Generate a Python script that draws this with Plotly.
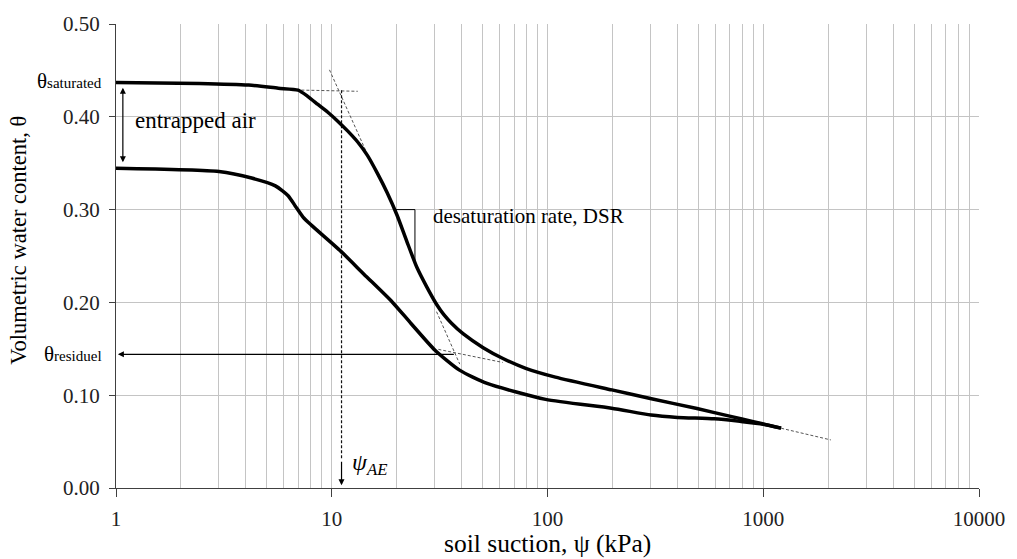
import math
import plotly.graph_objects as go

# ---------------- data ----------------
psi_upper = [1, 2.43, 4.12, 5.65, 6.98, 7.76, 8.63, 9.59, 10.66, 11.84, 13.16, 14.63,
             16.26, 18.07, 20.08, 22.32, 24.8, 27.56, 30.64, 33.0, 35.9, 40.74, 50.33,
             62.17, 79.27, 108.8, 198.7, 303.1, 492.9, 705.9, 899.6, 1209]
theta_upper = [0.437, 0.436, 0.4342, 0.4308, 0.4287, 0.4218, 0.4133, 0.4049, 0.3953,
               0.3848, 0.3731, 0.3584, 0.3393, 0.3182, 0.2939, 0.2653, 0.2378, 0.2167,
               0.1977, 0.1871, 0.1776, 0.166, 0.1512, 0.1395, 0.129, 0.1195, 0.1057,
               0.0962, 0.0856, 0.0772, 0.0715, 0.0645]

psi_lower = [1, 3.0, 4.25, 5.48, 6.28, 6.77, 7.36, 8.04, 11.03, 14.1, 19.06, 23.3, 30.1,
             39.1, 52.5, 98, 198, 302, 400, 592, 780, 1000, 1209]
theta_lower = [0.3445, 0.341, 0.334, 0.3256, 0.315, 0.304, 0.292, 0.2833, 0.255, 0.2304,
               0.2005, 0.1773, 0.1485, 0.127, 0.1127, 0.0955, 0.086, 0.0786, 0.0761,
               0.0745, 0.0718, 0.0688, 0.0645]

# construction (tangent) lines
sat_line_psi = [6.5, 13.2]
sat_line_theta = [0.429, 0.4275]
aev_tan_psi = [9.76, 14.9]
aev_tan_theta = [0.4506, 0.3555]
res_steep_psi = [30.6, 39.2]
res_steep_theta = [0.190, 0.1335]
res_flat_psi = [31.2, 62.0]
res_flat_theta = [0.1494, 0.1353]
tail_psi = [348, 2057]
tail_theta = [0.094, 0.0518]
psi_ae = 11.1
psi_ae_line_theta = [0.4285, 0.03]
dsr_psi = [19.7, 24.3, 24.3]
dsr_theta = [0.300, 0.300, 0.244]

theta_sat = 0.437
theta_res = 0.144
entrapped_top = 0.433
entrapped_bot = 0.351

x_major = [1, 10, 100, 1000, 10000]
x_major_text = ["1", "10", "100", "1000", "10000"]
y_ticks = [0.0, 0.1, 0.2, 0.3, 0.4, 0.5]

minor_vals = [m * 10 ** d for d in range(4) for m in range(2, 10)]

FONT = "Liberation Serif, Times New Roman, serif"
L = math.log10

fig = go.Figure()

dash_style = dict(color="#555555", width=1, dash="3px,2px")
for xs, ys in [(sat_line_psi, sat_line_theta), (aev_tan_psi, aev_tan_theta),
               (res_steep_psi, res_steep_theta), (res_flat_psi, res_flat_theta),
               (tail_psi, tail_theta)]:
    fig.add_trace(go.Scatter(x=xs, y=ys, mode="lines", line=dash_style,
                             hoverinfo="skip", showlegend=False))

fig.add_trace(go.Scatter(x=[psi_ae, psi_ae], y=psi_ae_line_theta, mode="lines",
                         line=dict(color="#111111", width=1.2, dash="3px,2px"),
                         hoverinfo="skip", showlegend=False))

fig.add_trace(go.Scatter(x=dsr_psi, y=dsr_theta, mode="lines",
                         line=dict(color="black", width=1),
                         hoverinfo="skip", showlegend=False))

for xs, ys in [(psi_upper, theta_upper), (psi_lower, theta_lower)]:
    fig.add_trace(go.Scatter(x=xs, y=ys, mode="lines",
                             line=dict(color="black", width=3.5, shape="spline", smoothing=0.6),
                             showlegend=False))

grid_c = "#c4c4c4"
fig.update_layout(
    width=1017, height=559,
    margin=dict(l=116, r=29, t=15, b=71),
    paper_bgcolor="white", plot_bgcolor="white",
    font=dict(family=FONT, size=21, color="#222222"),
    xaxis=dict(type="log", range=[0, 4], tickvals=x_major, ticktext=x_major_text,
               showgrid=True, gridcolor=grid_c, gridwidth=1.3,
               showline=True, linecolor="#404040", linewidth=1.3,
               ticks="outside", ticklen=8, tickcolor="#404040", tickwidth=1.3,
               ticklabelstandoff=4, zeroline=False,
               minor=dict(tickvals=minor_vals, showgrid=True, gridcolor=grid_c,
                          gridwidth=1.3, ticks="")),
    yaxis=dict(range=[0, 0.5], tickvals=y_ticks, tickformat=".2f",
               showgrid=True, gridcolor=grid_c, gridwidth=1.3,
               showline=True, linecolor="#404040", linewidth=1.3,
               ticks="outside", ticklen=6, tickcolor="#404040", tickwidth=1.3,
               ticklabelstandoff=5, zeroline=False),
)

ann = []
# axis titles
ann.append(dict(text="soil suction, ψ (kPa)", xref="paper", yref="paper", x=0.5, y=-0.1205,
                xanchor="center", yanchor="middle", showarrow=False,
                font=dict(family=FONT, size=25.5, color="black")))
ann.append(dict(text="Volumetric water content, θ", xref="paper", yref="paper",
                x=-0.1124, y=0.535, xanchor="center", yanchor="middle", textangle=-90,
                showarrow=False, font=dict(family=FONT, size=22.5, color="black")))
# labels (paper x so they are not hidden outside the axis range)
ann.append(dict(text="θ<span style='font-size:15px'>saturated</span>", xref="paper", yref="y",
                x=-0.0138, y=theta_sat + 0.002, xanchor="right", yanchor="middle",
                showarrow=False, font=dict(family=FONT, size=21, color="black")))
ann.append(dict(text="θ<span style='font-size:15px'>residuel</span>", xref="paper", yref="y",
                x=-0.0138, y=theta_res, xanchor="right", yanchor="middle",
                showarrow=False, font=dict(family=FONT, size=21, color="black")))
ann.append(dict(text="entrapped air", xref="x", yref="y", x=0.078, y=0.396,
                xanchor="left", yanchor="middle", showarrow=False,
                font=dict(family=FONT, size=23, color="black")))
ann.append(dict(text="desaturation rate, DSR", xref="x", yref="y", x=1.459, y=0.293,
                xanchor="left", yanchor="middle", showarrow=False,
                font=dict(family=FONT, size=21, color="black")))
ann.append(dict(text="<i>ψ</i><sub><i>AE</i></sub>", xref="x", yref="y", x=1.083, y=0.026,
                xanchor="left", yanchor="middle", showarrow=False,
                font=dict(family=FONT, size=24, color="black")))
# arrows
ann.append(dict(text="", xref="x", yref="y", axref="x", ayref="y",
                x=L(1.076), y=entrapped_bot, ax=L(1.076), ay=entrapped_top,
                showarrow=True, arrowhead=2, startarrowhead=2, arrowside="end+start",
                arrowsize=1, arrowwidth=1.2, arrowcolor="black"))
ann.append(dict(text="", xref="x", yref="y", axref="x", ayref="y",
                x=L(1.02), y=theta_res, ax=L(37.4), ay=theta_res,
                showarrow=True, arrowhead=2, arrowsize=1, arrowwidth=1.2, arrowcolor="black"))
ann.append(dict(text="", xref="x", yref="y", axref="x", ayref="y",
                x=L(psi_ae), y=0.003, ax=L(psi_ae), ay=0.03,
                showarrow=True, arrowhead=2, arrowsize=1, arrowwidth=1.2, arrowcolor="black"))
fig.update_layout(annotations=ann)

fig.write_html("out.html")
